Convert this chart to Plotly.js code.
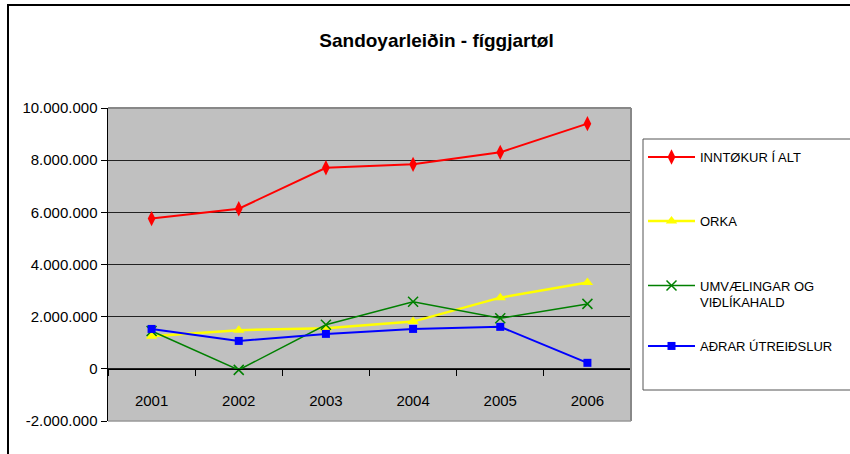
<!DOCTYPE html>
<html>
<head>
<meta charset="utf-8">
<script src="https://cdn.plot.ly/plotly-3.0.1.min.js"></script>
<style>html,body{margin:0;padding:0;background:#fff;}#chart{width:850px;height:454px;}</style>
</head>
<body>
<div id="chart"></div>
<script>
const years = ['2001', '2002', '2003', '2004', '2005', '2006'];
const inntokur = [5760000, 6140000, 7710000, 7840000, 8300000, 9400000];
const orka = [1250000, 1480000, 1560000, 1810000, 2730000, 3310000];
const umvaelingar = [1450000, -40000, 1690000, 2570000, 1940000, 2490000];
const adrar = [1530000, 1070000, 1340000, 1530000, 1610000, 230000];
const seriesNames = ['INNTØKUR Í ALT', 'ORKA', 'UMVÆLINGAR OG<br>VIÐLÍKAHALD', 'AÐRAR ÚTREIÐSLUR'];
const yTickVals = [-2000000, 0, 2000000, 4000000, 6000000, 8000000, 10000000];
const yTickText = ['-2.000.000', '0', '2.000.000', '4.000.000', '6.000.000', '8.000.000', '10.000.000'];
const titleText = 'Sandoyarleiðin - fíggjartøl';

const FONT = '"Liberation Sans", Arial, sans-serif';

const traces = [
  {x: years, y: inntokur, name: seriesNames[0], legend: 'legend', mode: 'lines+markers',
   line: {color: '#FF0000', width: 2}, marker: {symbol: 'diamond-tall', size: 11, color: '#FF0000'}},
  {x: years, y: orka, name: seriesNames[1], legend: 'legend2', mode: 'lines+markers',
   line: {color: '#FFFF00', width: 2.5}, marker: {symbol: 'triangle-up', size: 10, color: '#FFFF00'}},
  {x: years, y: umvaelingar, name: seriesNames[2], legend: 'legend3', mode: 'lines+markers',
   line: {color: '#008000', width: 1.5}, marker: {symbol: 'x-thin-open', size: 10, color: '#008000', line: {color: '#008000', width: 1.5}}},
  {x: years, y: adrar, name: seriesNames[3], legend: 'legend4', mode: 'lines+markers',
   line: {color: '#0000FF', width: 2}, marker: {symbol: 'square', size: 8, color: '#0000FF'}}
];

const px2x = p => (p - 108) / 523;
const px2y = p => (421 - p) / 313;

function leg(yc) {
  return {x: px2x(643), y: px2y(yc), xanchor: 'left', yanchor: 'middle',
          bgcolor: 'rgba(0,0,0,0)', borderwidth: 0, valign: 'top', itemwidth: 47,
          font: {family: FONT, size: 13, color: '#000'}};
}

const layout = {
  width: 850, height: 454,
  margin: {l: 108, r: 219, t: 108, b: 33, autoexpand: false},
  paper_bgcolor: '#FFFFFF',
  plot_bgcolor: '#C0C0C0',
  font: {family: FONT, color: '#000', size: 15},
  title: {text: titleText, font: {family: FONT, size: 19, color: '#000', weight: 'bold'},
          xref: 'container', yref: 'container', x: 436.5/850, y: 1 - 40/454, xanchor: 'center', yanchor: 'middle'},
  showlegend: true,
  legend: leg(157),
  legend2: leg(221),
  legend3: leg(294),
  legend4: leg(346),
  xaxis: {type: 'category', range: [-0.5, 5.5], anchor: 'free', position: 1/6,
          showline: true, linecolor: '#000', linewidth: 1, showgrid: false, zeroline: false,
          ticks: 'outside', tickson: 'boundaries', ticklen: 6, tickcolor: '#000', tickwidth: 1,
          ticklabelstandoff: 18, tickfont: {family: FONT, size: 15, color: '#000'}},
  yaxis: {range: [-2000000, 10000000], tickvals: yTickVals, ticktext: yTickText,
          showline: true, linecolor: '#000', linewidth: 1.5, showgrid: true, gridcolor: '#222', gridwidth: 1,
          zeroline: false, ticks: 'outside', ticklen: 6, tickcolor: '#000',
          tickfont: {family: FONT, size: 15, color: '#000'}},
  shapes: [
    {type: 'line', xref: 'paper', yref: 'paper', x0: 0, x1: 1, y0: 1, y1: 1, line: {color: '#888', width: 2}, layer: 'above'},
    {type: 'line', xref: 'paper', yref: 'paper', x0: 1, x1: 1, y0: 0, y1: 1, line: {color: '#888', width: 2}, layer: 'above'},
    {type: 'line', xref: 'paper', yref: 'paper', x0: 0, x1: 1, y0: 0, y1: 0, line: {color: '#999', width: 1.5}, layer: 'above'},
    {type: 'rect', xref: 'paper', yref: 'paper', x0: px2x(643), x1: px2x(900), y0: px2y(390), y1: px2y(139),
     line: {color: '#555', width: 1}, layer: 'below', fillcolor: '#FFFFFF'},
    {type: 'rect', xref: 'paper', yref: 'paper', x0: px2x(8), x1: 1.5, y0: -0.5, y1: px2y(5),
     line: {color: '#000', width: 2}, layer: 'above', fillcolor: 'rgba(0,0,0,0)'}
  ]
};

Plotly.newPlot('chart', traces, layout, {displayModeBar: false, staticPlot: true});
</script>
</body>
</html>
